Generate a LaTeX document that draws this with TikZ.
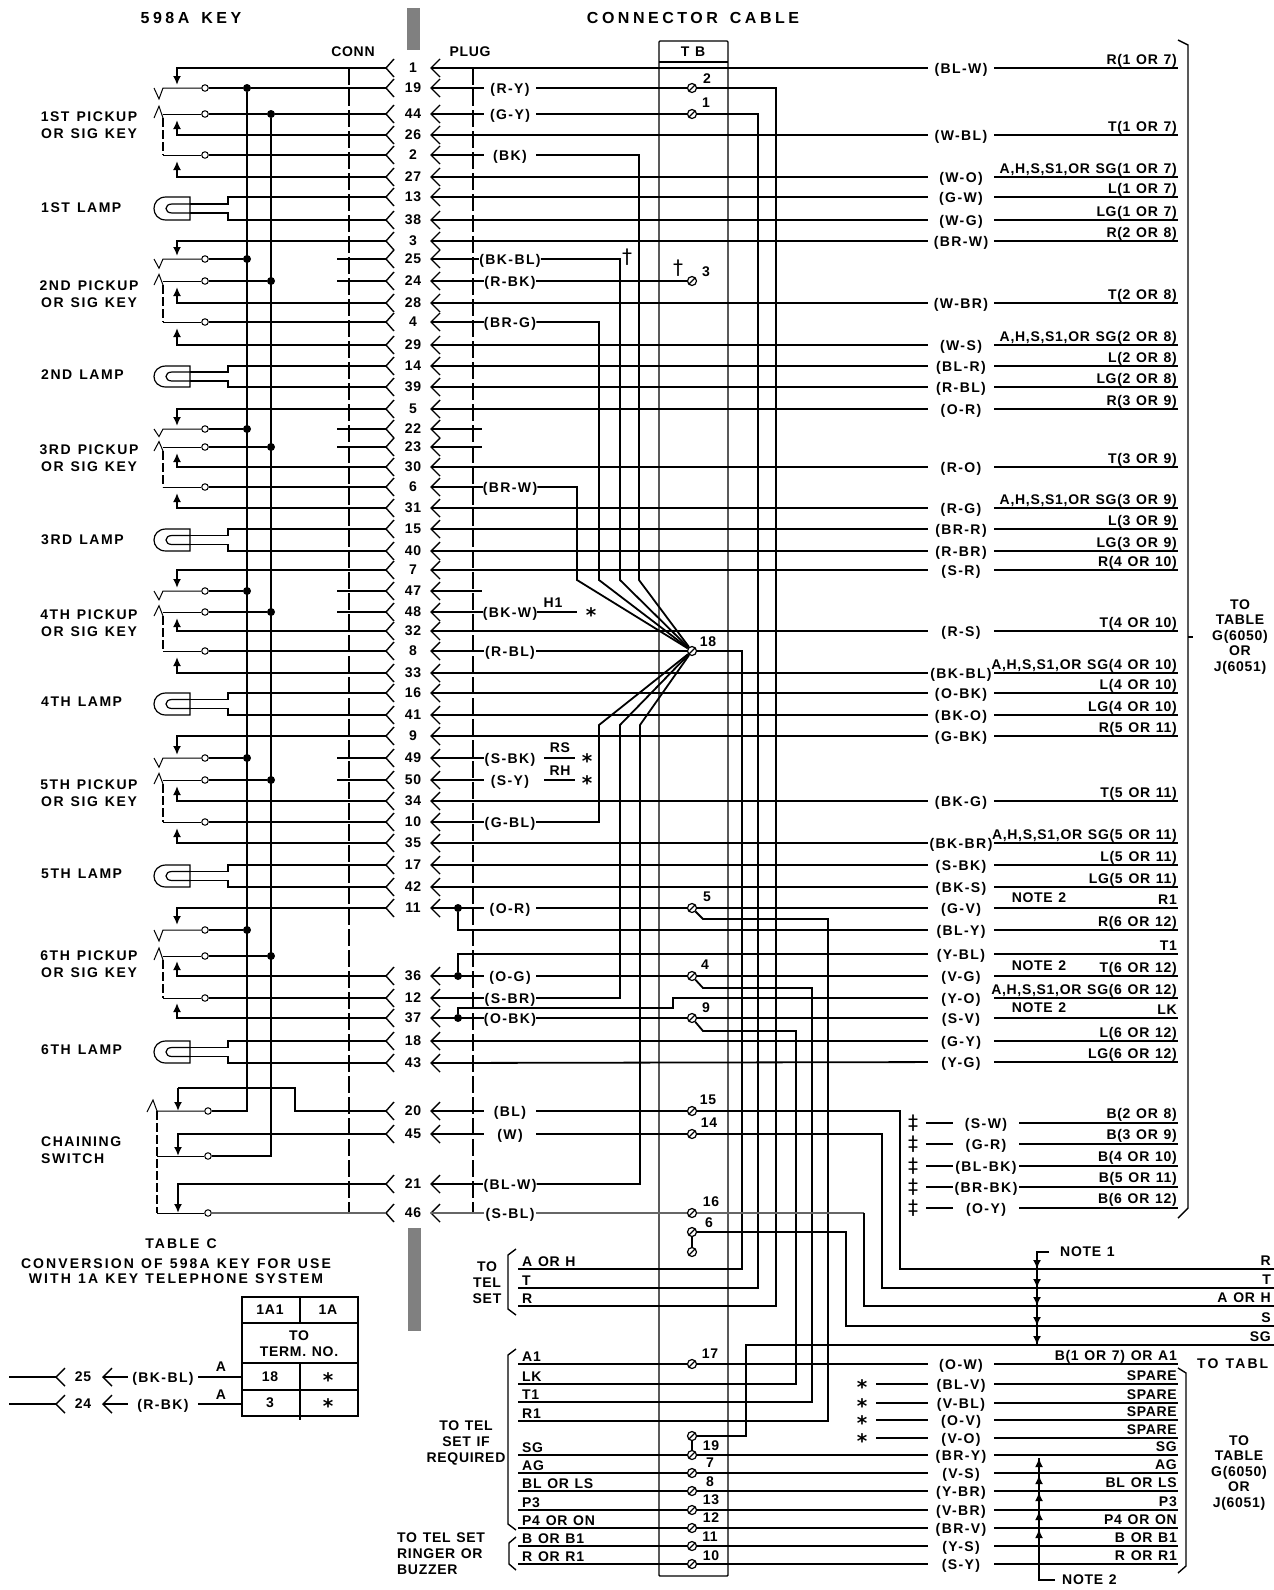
\documentclass[tikz,border=0pt]{standalone}
\usepackage{fontspec}
\setmainfont{Liberation Sans}
\newfontfamily\lblf[LetterSpace=5,WordSpace=1.25]{Liberation Sans}
\newfontfamily\codef[LetterSpace=10]{Liberation Sans}
\newfontfamily\medf[LetterSpace=11,WordSpace=1.3]{Liberation Sans}
\newfontfamily\tabf[LetterSpace=15,WordSpace=1.2]{Liberation Sans}
\newfontfamily\widef[LetterSpace=22,WordSpace=1.5]{Liberation Sans}
\newfontfamily\djv{DejaVu Sans}
\usetikzlibrary{arrows.meta}
\tikzset{
 wire/.style={line width=1.8pt,line join=miter},
 thinw/.style={line width=1pt},
 greyw/.style={line width=1.8pt,black!60},
 lbl/.style={inner sep=0pt,font=\lblf\bfseries\fontsize{14}{17}\selectfont,align=center},
 lblm/.style={inner sep=0pt,font=\medf\bfseries\fontsize{14}{17}\selectfont,align=center},
 lblt/.style={inner sep=0pt,font=\tabf\bfseries\fontsize{14}{17}\selectfont,align=center},
 lbll/.style={lblm,align=left,anchor=west},
 title/.style={inner sep=0pt,font=\widef\bfseries\fontsize{16}{17}\selectfont},
 code/.style={inner sep=0pt,font=\codef\bfseries\fontsize{14}{17}\selectfont,align=center,text height=10.5pt,text depth=0.5pt},
 lcode/.style={code,minimum width=52pt},
 rcode/.style={code,minimum width=66pt},
 rtxt/.style={lbl,anchor=base east},
 ttxt/.style={lbl,anchor=base west},
 term/.style={circle,draw,fill=white,minimum size=9pt,inner sep=0pt,line width=1.2pt,
   path picture={\draw[line width=1.3pt] (path picture bounding box.south west) -- (path picture bounding box.north east);}},
 cont/.style={circle,draw,fill=white,minimum size=6.5pt,inner sep=0pt,line width=1pt},
 jdot/.style={circle,fill=black,minimum size=8pt,inner sep=0pt},
 ast/.style={inner sep=0pt,anchor=base,font=\djv\bfseries\fontsize{20}{20}\selectfont},
 dag/.style={inner sep=0pt,font=\djv\fontsize{20}{20}\selectfont},
 arr/.style={wire,-{Latex[length=9pt,width=8pt]}},
 dsh/.style={line width=1.2pt,dash pattern=on 17pt off 4pt},
 dshs/.style={line width=1.1pt,dash pattern=on 9pt off 3pt},
}
\begin{document}
\begin{tikzpicture}[x=1pt,y=-1pt]
\useasboundingbox (0,0) rectangle (1274,1590);
\fill[white] (0,0) rectangle (1274,1590);
% titles
\node[title] (t1) at (191,18) {598A KEY};
\node[title] (t2) at (693,18) {CONNECTOR CABLE};
\node[lbl] (t3) at (353,52) {CONN};
\node[lbl] (t4) at (470,52) {PLUG};
\fill[black!50] (407,8) rectangle (420,50);
\fill[black!50] (408,1228) rectangle (421,1331);
% TB box
\node[draw,line width=1.4pt,minimum width=69pt,minimum height=1535pt,inner sep=0pt,rounded corners=1pt] (tb) at (693.5,808.5) {};
\node[lbl] (tbt) at (693,52) {T B};
\draw[line width=1.4pt] (659,62) -- (728,62);
% plug and conn dashed lines
\draw[dsh] (349,68) -- (349,1213);
\draw[dsh] (473,68) -- (473,1213);
% pins with chevrons
\foreach \pin/\y in {1/68,19/88,44/114,26/135,2/155,27/177,13/197,38/220,3/241,25/259,24/281,28/303,4/322,29/345,14/366,39/387,5/409,22/429,23/447,30/467,6/487,31/508,15/529,40/551,7/570,47/591,48/612,32/631,8/651,33/673,16/693,41/715,9/736,49/758,50/780,34/801,10/822,35/843,17/865,42/887,11/908,36/976,12/998,37/1018,18/1041,43/1063,20/1111,45/1134,21/1184,46/1213}{
  \coordinate (L\pin) at (386,\y);
  \coordinate (R\pin) at (431,\y);
  \node[lbl] (P\pin) at (413,\y) {\pin};
  \draw[line width=1.4pt] (394,\y-9) -- (L\pin) -- (394,\y+9);
  \draw[line width=1.4pt] (440,\y-9) -- (R\pin) -- (440,\y+9);
}
% key switches 1-5
\foreach \ka/\ya/\kb/\yb/\kc/\yc/\kd/\yd/\ke/\ye/\kf/\yf in {
 1/68/19/88/44/114/26/135/2/155/27/177,
 3/241/25/259/24/281/28/303/4/322/29/345,
 5/409/22/429/23/447/30/467/6/487/31/508,
 7/570/47/591/48/612/32/631/8/651/33/673,
 9/736/49/758/50/780/34/801/10/822/35/843}{
  \node[cont] (c\kb) at (205,\yb) {};
  \node[cont] (c\kc) at (205,\yc) {};
  \node[cont] (c\ke) at (205,\ye) {};
  \node[jdot] (da\kb) at (247,\yb) {};
  \node[jdot] (db\kc) at (271,\yc) {};
  \draw[wire] (c\kb) -- (da\kb);
  \draw[wire] (c\kc) -- (db\kc);
  \draw[wire] (c\ke) -- (L\ke);
  \draw[arr] (L\ka) -- (177,\ya) -- (177,\yb-3);
  \draw[arr] (L\kd) -- (177,\yd) -- (177,\yc+6);
  \draw[arr] (L\kf) -- (177,\yf) -- (177,\ye+6);
  \draw[thinw] (154,\yb) -- (159,\yb+0.42*\yc-0.42*\yb) -- (163,\yb) -- (c\kb);
  \draw[thinw] (154,\yc+4) -- (159,\yc-0.3*\yc+0.3*\yb) -- (163,\yc+4);
  \draw[thinw] (163,\yc) -- (c\kc);
  \draw[dshs] (163,\yc+4) -- (163,\ye);
  \draw[thinw] (163,\ye) -- (c\ke);
}
% key 6
\node[cont] (c6a) at (205,930) {};
\node[cont] (c6b) at (205,956) {};
\node[cont] (c12) at (205,998) {};
\node[jdot] (da6) at (247,930) {};
\node[jdot] (db6) at (271,956) {};
\draw[wire] (c6a) -- (da6);
\draw[wire] (c6b) -- (db6);
\draw[wire] (c12) -- (L12);
\draw[arr] (L11) -- (177,908) -- (177,925);
\draw[arr] (L36) -- (177,976) -- (177,961);
\draw[arr] (L37) -- (177,1018) -- (177,1003);
\draw[thinw] (154,930) -- (159,941) -- (163,930) -- (c6a);
\draw[thinw] (154,960) -- (159,948) -- (163,960);
\draw[thinw] (163,956) -- (c6b);
\draw[dshs] (163,960) -- (163,998);
\draw[thinw] (163,998) -- (c12);
% full wires on first key, stubs on others
\draw[wire] (da19) -- (L19);
\draw[wire] (db44) -- (L44);
\foreach \pin/\y in {25/259,24/281,22/429,23/447,47/591,48/612,49/758,50/780}{
  \coordinate (s\pin) at (337,\y);
  \draw[wire] (s\pin) -- (L\pin);
}
% buses and chaining switch
\node[cont] (cc20) at (208,1111) {};
\node[cont] (cc45) at (208,1156) {};
\node[cont] (cc46) at (208,1213) {};
\draw[wire] (da19) -- (247,1111) -- (cc20);
\draw[wire] (db44) -- (271,1156) -- (cc45);
\draw[thinw] (147,1112) -- (153,1100) -- (157,1111) -- (cc20);
\draw[thinw] (157,1156) -- (cc45);
\draw[thinw] (157,1213) -- (cc46);
\draw[dshs] (157,1111) -- (157,1213);
\draw[greyw] (cc46) -- (L46);
\draw[wire] (L20) -- (295,1111) -- (295,1088) -- (178,1088);
\draw[arr] (178,1088) -- (178,1111);
\draw[arr] (L45) -- (178,1134) -- (178,1156);
\draw[arr] (L21) -- (178,1184) -- (178,1213);
% lamps
\foreach \pt/\t/\pb/\b in {13/197/38/220,14/366/39/387,15/529/40/551,16/693/41/715,17/865/42/887,18/1041/43/1063}{
  \pgfmathsetmacro\mt{(\t+\b)/2-4.5}
  \pgfmathsetmacro\mb{(\t+\b)/2+4.5}
  \draw[line width=1.2pt] (190,\t) -- (166,\t) .. controls (150,\t) and (150,\b) .. (166,\b) -- (190,\b) -- cycle;
  \draw[line width=1.2pt] (190,\mt) -- (172,\mt) .. controls (164,\mt) and (164,\mb) .. (172,\mb) -- (190,\mb);
  \draw[wire] (190,\mt) -- (228,\mt) -- (228,\t) -- (L\pt);
  \draw[wire] (190,\mb) -- (228,\mb) -- (228,\b) -- (L\pb);
}
% left texts
\foreach \a/\y in {1ST/125,2ND/294,3RD/458,4TH/623,5TH/793,6TH/964}{
  \node[lblm] (k\a) at (89,\y) {\a{} PICKUP\\OR SIG KEY};
}
\foreach \a/\y in {1ST/208,2ND/375,3RD/540,4TH/702,5TH/874,6TH/1050}{
  \node[lbll] (l\a) at (41,\y) {\a{} LAMP};
}
\node[lblm,align=left,anchor=west] (chain) at (41,1150) {CHAINING\\SWITCH};
% terminals
\foreach \n/\y/\lx/\ly in {2/88/707/79,1/114/706/103,3/281/706/272,18/651/708/642,5/908/707/897,4/976/705/965,9/1018/706/1008,15/1111/708/1100,14/1134/709/1123,16/1213/711/1202,6/1232/709/1223,17/1364/710/1354,7/1473/710/1463,8/1491/710/1482,13/1510/711/1500,12/1528/711/1518,11/1546/710/1537,10/1564/711/1556}{
  \node[term] (T\n) at (692,\y) {};
  \node[lbl] (TL\n) at (\lx,\ly) {\n};
}
\node[term] (T6b) at (692,1252) {};
\node[term] (T19a) at (692,1436) {};
\node[term] (T19b) at (692,1455) {};
\node[lbl] (TL19) at (711,1446) {19};
\draw[wire] (T6) -- (T6b);
\draw[wire] (T19a) -- (T19b);
% left colour codes
\foreach \pin/\code/\y in {19/R-Y/88,44/G-Y/114,2/BK/155,25/BK-BL/259,24/R-BK/281,4/BR-G/322,6/BR-W/487,48/BK-W/612,8/R-BL/651,49/S-BK/758,50/S-Y/780,10/G-BL/822,11/O-R/908,36/O-G/976,12/S-BR/998,37/O-BK/1018,20/BL/1111,45/W/1134,21/BL-W/1184}{
  \node[lcode] (lc\pin) at (510,\y) {(\code)};
  \draw[wire] (R\pin) -- (lc\pin);
}
\node[lcode] (lc46) at (510,1213) {(S-BL)};
\draw[greyw] (R46) -- (lc46);
\foreach \pin/\y in {22/429,23/447,47/591}{
  \coordinate (st\pin) at (482,\y);
  \draw[wire] (R\pin) -- (st\pin);
}
% right rows
\foreach \code/\y/\txt in {BL-W/68/R(1 OR 7),W-BL/135/T(1 OR 7),W-O/177/{A,H,S,S1,OR SG(1 OR 7)},G-W/197/L(1 OR 7),W-G/220/LG(1 OR 7),BR-W/241/R(2 OR 8),W-BR/303/T(2 OR 8),W-S/345/{A,H,S,S1,OR SG(2 OR 8)},BL-R/366/L(2 OR 8),R-BL/387/LG(2 OR 8),O-R/409/R(3 OR 9),R-O/467/T(3 OR 9),R-G/508/{A,H,S,S1,OR SG(3 OR 9)},BR-R/529/L(3 OR 9),R-BR/551/LG(3 OR 9),S-R/570/R(4 OR 10),R-S/631/T(4 OR 10),BK-BL/673/{A,H,S,S1,OR SG(4 OR 10)},O-BK/693/L(4 OR 10),BK-O/715/LG(4 OR 10),G-BK/736/R(5 OR 11),BK-G/801/T(5 OR 11),BK-BR/843/{A,H,S,S1,OR SG(5 OR 11)},S-BK/865/L(5 OR 11),BK-S/887/LG(5 OR 11),G-V/908/R1,BL-Y/930/R(6 OR 12),Y-BL/954/T1,V-G/976/T(6 OR 12),Y-O/998/{A,H,S,S1,OR SG(6 OR 12)},S-V/1018/LK,G-Y/1041/L(6 OR 12),Y-G/1062/LG(6 OR 12),
  O-W/1364/B(1 OR 7) OR A1,BL-V/1384/SPARE,V-BL/1403/SPARE,O-V/1420/SPARE,V-O/1438/SPARE,BR-Y/1455/SG,V-S/1473/AG,Y-BR/1491/BL OR LS,V-BR/1510/P3,BR-V/1528/P4 OR ON,Y-S/1546/B OR B1,S-Y/1564/R OR R1}{
  \coordinate (e\code) at (1178,\y);
  \node[rcode] (rc\code) at (961,\y) {(\code)};
  \node[rtxt] (rt\code) at (1177,\y-4) {\txt};
  \draw[wire] (rc\code) -- (e\code);
}
% row to right-code connections
\foreach \src/\code in {R1/BL-W,R26/W-BL,R27/W-O,R13/G-W,R38/W-G,R3/BR-W,R28/W-BR,R29/W-S,R14/BL-R,R39/R-BL,R5/O-R,R30/R-O,R31/R-G,R15/BR-R,R40/R-BR,R7/S-R,R32/R-S,R33/BK-BL,R16/O-BK,R41/BK-O,R9/G-BK,R34/BK-G,R35/BK-BR,R17/S-BK,R42/BK-S,T5/G-V,T4/V-G,T9/S-V,R18/G-Y,R43/Y-G,T17/O-W,T19b/BR-Y,T7/V-S,T8/Y-BR,T13/V-BR,T12/BR-V,T11/Y-S,T10/S-Y}{
  \draw[wire] (\src) -- (rc\code);
}
% junction dots and branches on 6th key
\node[jdot] (j11) at (458,908) {};
\node[jdot] (j36) at (458,976) {};
\node[jdot] (j37) at (458,1018) {};
\draw[wire] (j11) -- (458,930) -- (rcBL-Y);
\draw[wire] (j36) -- (458,954) -- (rcY-BL);
\draw[wire] (j37) -- (458,1008) -- (673,1008) -- (673,998) -- (rcY-O);
% notes on rows
\node[lbl] (n21) at (1039,898) {NOTE 2};
\node[lbl] (n22) at (1039,966) {NOTE 2};
\node[lbl] (n23) at (1039,1008) {NOTE 2};
% plug side to terminals
\draw[wire] (lc19) -- (T2);
\draw[wire] (lc44) -- (T1);
\draw[wire] (lc24) -- (T3);
\draw[wire] (lc8) -- (T18);
\draw[wire] (lc11) -- (T5);
\draw[wire] (lc36) -- (T4);
\draw[wire] (lc37) -- (T9);
\draw[wire] (lc20) -- (T15);
\draw[wire] (lc45) -- (T14);
\draw[greyw] (lc46) -- (T16);
% star fan to terminal 18
\draw[wire] (lc6) -- (577,487) -- (577,580) -- (T18);
\draw[wire] (lc4) -- (599,322) -- (599,580) -- (T18);
\draw[wire] (lc25) -- (620,259) -- (620,580) -- (T18);
\draw[wire] (lc2) -- (639,155) -- (639,580) -- (T18);
\draw[wire] (lc10) -- (599,822) -- (599,725) -- (T18);
\draw[wire] (lc12) -- (620,998) -- (620,725) -- (T18);
\draw[wire] (lc21) -- (640,1184) -- (640,725) -- (T18);
% tel set side
\foreach \n/\txt/\y in {tA/A OR H/1269,tT/T/1288,tR/R/1306,tA1/A1/1364,tLK/LK/1384,tT1/T1/1402,tR1/R1/1421,tSG/SG/1455,tAG/AG/1473,tBL/BL OR LS/1491,tP3/P3/1510,tP4/P4 OR ON/1528,tB/B OR B1/1546,tRR/R OR R1/1564}{
  \coordinate (\n) at (518,\y);
  \node[ttxt] (x\n) at (522,\y-3) {\txt};
}
\draw[wire] (T18) -- (742,651) -- (742,1269) -- (tA);
\draw[wire] (T1) -- (758,114) -- (758,1288) -- (tT);
\draw[wire] (T2) -- (776,88) -- (776,1306) -- (tR);
\draw[wire] (T9) -- (703,1031) -- (796,1031) -- (796,1384) -- (tLK);
\draw[wire] (T4) -- (703,988) -- (812,988) -- (812,1402) -- (tT1);
\draw[wire] (T5) -- (703,919) -- (828,919) -- (828,1421) -- (tR1);
\foreach \a/\b in {tA1/T17,tSG/T19b,tAG/T7,tBL/T8,tP3/T13,tP4/T12,tB/T11,tRR/T10}{
  \draw[wire] (\a) -- (\b);
}
% far-right bus
\foreach \n/\txt/\y in {fR/R/1269,fT/T/1288,fA/A OR H/1306,fS/S/1326,fG/SG/1345}{
  \coordinate (\n) at (1274,\y);
  \node[rtxt] (x\n) at (1271,\y-4) {\txt};
}
\draw[wire] (T15) -- (900,1111) -- (900,1269) -- (fR);
\draw[wire] (T14) -- (882,1134) -- (882,1288) -- (fT);
\draw[greyw] (T16) -- (864,1213);
\draw[wire] (864,1213) -- (864,1306) -- (fA);
\draw[wire] (T6) -- (846,1232) -- (846,1326) -- (fS);
\draw[wire] (T19a) -- (746,1436) -- (746,1345) -- (fG);
% hash rows with double daggers
\foreach \code/\y/\txt in {S-W/1123/B(2 OR 8),G-R/1144/B(3 OR 9),BL-BK/1166/B(4 OR 10),BR-BK/1187/B(5 OR 11),O-Y/1208/B(6 OR 12)}{
  \node[dag] (dd\code) at (913,\y) {‡};
  \coordinate (ds\code) at (926,\y);
  \coordinate (de\code) at (1178,\y);
  \node[rcode] (rc\code) at (986,\y) {(\code)};
  \node[rtxt] (rt\code) at (1177,\y-5) {\txt};
  \draw[wire] (ds\code) -- (rc\code);
  \draw[wire] (rc\code) -- (de\code);
}
% asterisks and spare stubs
\foreach \y/\code in {1384/BL-V,1403/V-BL,1420/O-V,1438/V-O}{
  \node[ast] (as\y) at (862,\y+10.5) {*};
  \coordinate (sb\y) at (876,\y);
  \draw[wire] (sb\y) -- (rc\code);
}
\coordinate (h1e) at (577,612);
\draw[wire] (lc48) -- (h1e);
\node[lbl] (h1) at (553,603) {H1};
\node[ast] (ash) at (591,622.5) {*};
\coordinate (rsa) at (544,758); \coordinate (rsb) at (575,758);
\coordinate (rha) at (544,780); \coordinate (rhb) at (575,780);
\draw[wire] (rsa) -- (rsb);
\draw[wire] (rha) -- (rhb);
\node[lbl] (rs) at (560,748) {RS};
\node[lbl] (rh) at (560,771) {RH};
\node[ast] (asr1) at (587,768.5) {*};
\node[ast] (asr2) at (587,790.5) {*};
% daggers
\node[dag] (dg1) at (627,257) {†};
\node[dag] (dg2) at (678,268) {†};
% note arrows
\node[lbl,anchor=west] (nt1) at (1060,1252) {NOTE 1};
\node[lbl,anchor=west] (nt2) at (1062,1580) {NOTE 2};
\draw[wire] (nt1.west) ++(-11,0) -- (1037,1252) -- (1037,1345);
\foreach \y in {1269,1288,1306,1326,1345}{
  \draw[arr] (1037,\y-10) -- (1037,\y);
}
\draw[wire] (nt2.west) ++(-7,0) -- (1039,1580) -- (1039,1458);
\foreach \y in {1458,1475,1492,1511,1529}{
  \draw[arr] (1039,\y+10) -- (1039,\y);
}
% right brackets and destination text
\draw[line width=1.4pt] (1178,40) -- (1188,45) -- (1188,1208) -- (1178,1218);
\draw[line width=1.4pt] (1188,637) -- (1193,637);
\draw[line width=1.4pt] (1178,1368) -- (1186,1373) -- (1186,1566) -- (1178,1573);
\node[lbl] (tab1) at (1240,637) {TO\\[-1.5pt]TABLE\\[-1.5pt]G(6050)\\[-1.5pt]OR\\[-1.5pt]J(6051)};
\node[lbl] (tab2) at (1239,1473) {TO\\[-1.5pt]TABLE\\[-1.5pt]G(6050)\\[-1.5pt]OR\\[-1.5pt]J(6051)};
\node[lblt,anchor=west] (tab3) at (1197,1364) {TO TABL};
% left brackets and text
\draw[line width=1.4pt] (516,1249) -- (508,1255) -- (508,1309) -- (516,1315);
\draw[line width=1.4pt] (516,1349) -- (508,1355) -- (508,1524) -- (516,1530);
\draw[line width=1.4pt] (516,1537) -- (509,1543) -- (509,1564) -- (516,1570);
\node[lbl] (tt1) at (487,1283) {TO\\[-1pt]TEL\\[-1pt]SET};
\node[lbl] (tt2) at (466,1443) {TO TEL\\[-1pt]SET IF\\[-1pt]REQUIRED};
\node[lbl,align=left,anchor=west] (tt3) at (397,1554) {TO TEL SET\\[-1pt]RINGER OR\\[-1pt]BUZZER};
% Table C
\node[lblt] (tc1) at (181,1244) {TABLE C};
\node[lblt] (tc2) at (176,1271) {CONVERSION OF 598A KEY FOR USE\\[-1.5pt]WITH 1A KEY TELEPHONE SYSTEM};
\draw[line width=1.4pt] (242,1297) rectangle (358,1416);
\draw[line width=1.4pt] (242,1323) -- (358,1323);
\draw[line width=1.4pt] (242,1363) -- (358,1363);
\draw[line width=1.4pt] (242,1390) -- (358,1390);
\draw[line width=1.4pt] (300,1297) -- (300,1323);
\draw[line width=1.4pt] (300,1363) -- (300,1420);
\node[lbl] (h1a1) at (270,1310) {1A1};
\node[lbl] (h1a) at (328,1310) {1A};
\node[lbl] (hto) at (299,1344) {TO\\[-1pt]TERM. NO.};
\node[lbl] (v18) at (270,1377) {18};
\node[lbl] (v3) at (270,1403) {3};
\node[ast] (v181) at (328,1387.5) {*};
\node[ast] (v31) at (328,1413.5) {*};
\foreach \pin/\code/\y/\ay in {25/BK-BL/1377/1367,24/R-BK/1404/1395}{
  \coordinate (cs\pin) at (9,\y);
  \coordinate (cl\pin) at (56,\y);
  \coordinate (cr\pin) at (103,\y);
  \coordinate (ce\pin) at (242,\y);
  \node[lbl] (cp\pin) at (83,\y) {\pin};
  \node[lcode,minimum width=70pt] (cc\pin) at (163,\y) {(\code)};
  \node[lbl] (ca\pin) at (221,\ay) {A};
  \draw[wire] (cs\pin) -- (cl\pin);
  \draw[line width=1.4pt] (65,\y-9) -- (cl\pin) -- (65,\y+9);
  \draw[line width=1.4pt] (112,\y-9) -- (cr\pin) -- (112,\y+9);
  \draw[wire] (cr\pin) -- (cc\pin);
  \draw[wire] (cc\pin) -- (ce\pin);
}
\end{tikzpicture}
\end{document}
